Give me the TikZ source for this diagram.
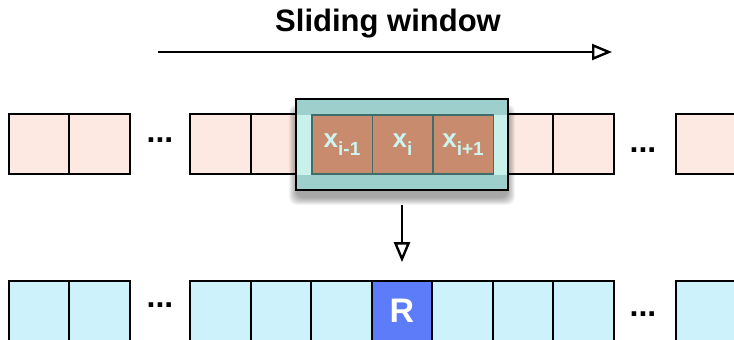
\documentclass[tikz,border=0pt]{standalone}
\usepackage{fontspec}
\setmainfont{Liberation Sans}
\usetikzlibrary{arrows.meta}
\definecolor{pinkcell}{HTML}{FDE9E2}
\definecolor{cyancell}{HTML}{CDF2FC}
\definecolor{rblue}{HTML}{5C7CFA}
\definecolor{winteal}{HTML}{9DD0CC}
\definecolor{bandteal}{HTML}{C9F1EC}
\definecolor{orangecell}{HTML}{C98B6D}
\definecolor{orangeline}{HTML}{3F6E6A}
\definecolor{labeltxt}{HTML}{CCF5F0}
\tikzset{
  cell/.style={draw=black, line width=1.7pt, minimum width=60.5pt, minimum height=60pt, inner sep=0pt},
  topcell/.style={cell, fill=pinkcell},
  botcell/.style={cell, fill=cyancell},
  wincell/.style={draw=orangeline, line width=1.5pt, fill=orangecell, minimum width=60.5pt, minimum height=59pt, inner sep=0pt, text=labeltxt, font=\bfseries},
  dots/.style={font=\fontsize{32}{32}\selectfont\bfseries, inner sep=0pt},
  arr/.style={line width=2.6pt, -{Triangle[open, length=20pt, width=16pt, line width=2.4pt]}},
  shadowpiece/.style={fill=black, opacity=0.04, rounded corners=8pt},
}
\newcommand{\xlab}[1]{{\fontsize{26}{26}\selectfont x}\raisebox{-8pt}{\fontsize{19}{19}\selectfont #1}}
\begin{document}
\begin{tikzpicture}[x=1pt, y=-1pt]
\clip (0,0) rectangle (734,340);
\fill[white] (0,0) rectangle (734,340);
% title and sliding arrow
\node[anchor=base, font=\fontsize{31}{31}\selectfont\bfseries, inner sep=0pt] (title) at (388,31) {Sliding window};
\coordinate (sa) at (158,52);
\coordinate (sb) at (612,52);
\draw[arr] (sa) -- (sb);
% top row
\node[topcell] (t1) at (39,144) {};
\node[topcell] (t2) at (99.5,144) {};
\node[dots] (td1) at (160,140) {...};
\node[topcell] (t3) at (220.5,144) {};
\node[topcell] (t4) at (281,144) {};
\node[topcell] (t5) at (523,144) {};
\node[topcell] (t6) at (583.5,144) {};
\node[dots] (td2) at (643,150) {...};
\node[topcell] (t7) at (706,144) {};
% window shadow
\foreach \i in {0,...,9}
  \fill[shadowpiece] (289+\i*0.8, 104+\i*0.8) rectangle (515-\i*0.8, 205-\i*0.8);
% window
\node[draw=black, line width=1.6pt, fill=winteal, minimum width=212pt, minimum height=91pt, inner sep=0pt] (win) at (402,144.5) {};
\node[fill=bandteal, minimum width=210.5pt, minimum height=60pt, inner sep=0pt] (band) at (402,144.5) {};
\node[wincell] (w1) at (342,144.5) {\xlab{i-1}};
\node[wincell] (w2) at (402.5,144.5) {\xlab{i}};
\node[wincell] (w3) at (463,144.5) {\xlab{i+1}};
% bottom row
\node[botcell] (b1) at (39,311) {};
\node[botcell] (b2) at (99.5,311) {};
\node[dots] (bd1) at (160,305) {...};
\node[botcell] (b3) at (220.5,311) {};
\node[botcell] (b4) at (281,311) {};
\node[botcell] (b5) at (341.5,311) {};
\node[cell, fill=rblue, text=white, font=\fontsize{34}{34}\selectfont\bfseries] (R) at (402,311) {R};
\node[botcell] (b7) at (462.5,311) {};
\node[botcell] (b8) at (523,311) {};
\node[botcell] (b9) at (583.5,311) {};
\node[dots] (bd2) at (643,314) {...};
\node[botcell] (b10) at (706,311) {};
% down arrow
\draw[arr] ([yshift=-14pt]win.south) -- ([yshift=18pt]R.north);
\end{tikzpicture}
\end{document}
